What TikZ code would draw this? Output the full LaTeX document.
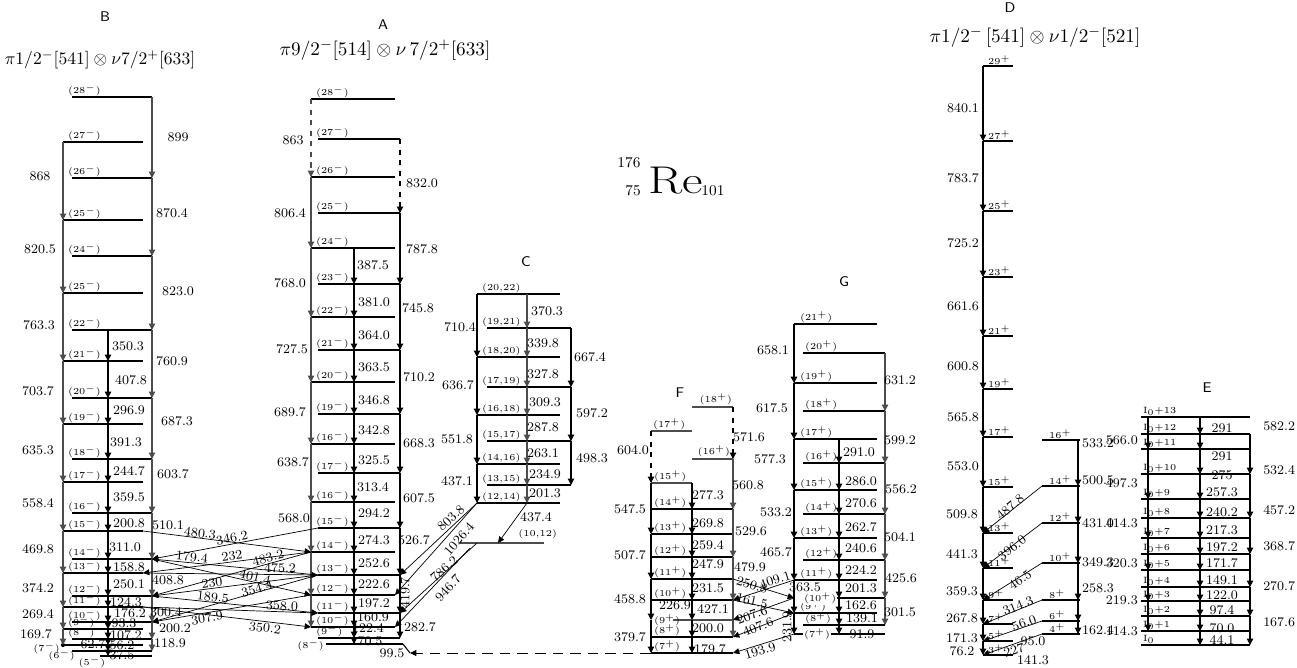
\documentclass[tikz,border=0pt]{standalone}
\usetikzlibrary{arrows.meta}
\begin{document}
\begin{tikzpicture}[x=0.02cm,y=-0.02cm,
  lev/.style={line width=0.6pt},
  tr/.style={-{Triangle[length=3.6pt,width=3.6pt]},line width=0.6pt},
  xtr/.style={-{Triangle[length=3.6pt,width=3.4pt]},line width=0.4pt},
  en/.style={font=\fontsize{7.5}{8}\selectfont,inner sep=0.5pt},
  spn/.style={font=\fontsize{5.2}{6}\selectfont,inner sep=0.4pt,anchor=south west},
  ttl/.style={font=\fontsize{10}{12}\selectfont},
  bnd/.style={font=\sffamily\fontsize{8}{9}\selectfont}
]
\useasboundingbox (0,0) rectangle (1297,667);

% ---------------- band B
\node[bnd] (Bname) at (105,17) {B};
\node[ttl] (Btitle) at (100,60) {$\pi 1/2^-[541]\otimes\nu 7/2^+[633]$};
\coordinate (Bc1) at (63,0); \coordinate (Bc2) at (108,0); \coordinate (Bc3) at (152,0);
\coordinate (Be) at (72,0); \coordinate (Bo) at (143,0);
\foreach \s/\y/\lab in {28/97/28,26/178/26,24/256/24,22/330/22,20/398/20,18/459/18,16/513/16,14/559/14,12/596/12,10/622/10,8/639/8}
  {\coordinate (B\s) at (0,\y);
   \draw[lev] (B\s -| Be) -- (B\s -| Bc3);
   \node[spn] (Bs\s) at (67,\y) {(\lab$^-$)};}
\foreach \s/\y/\lab in {27/142/27,25/220/25,23/293/25,21/361/21,19/424/19,17/482/17,15/531/15,13/573/13,11/607/11,9/629/9}
  {\coordinate (B\s) at (0,\y);
   \draw[lev] (B\s -| Bc1) -- (B\s -| Bo);
   \node[spn] (Bs\s) at (67,\y) {(\lab$^-$)};}
\coordinate (B7) at (0,645); \coordinate (B6) at (0,651); \coordinate (B5) at (0,656);
\draw[lev] (B7 -| Bc1) -- (B7 -| Bo);
\draw[lev] (B6 -| Be) -- (B6 -| Bc3);
\draw[lev] (100,656) -- (B5 -| Bc3);
\fill (B7 -| Bc1) circle (1.2pt);
\node[spn,anchor=east] (Bs7) at (61,648) {(7$^-$)};
\node[spn,anchor=east] (Bs6) at (76,655) {(6$^-$)};
\node[spn,anchor=center] (Bs5) at (92,662) {(5$^-$)};
\foreach \p/\q in {28/26,26/24,24/22,22/20,20/18,18/16,16/14,14/12,12/10,10/8,8/6}
  \draw[tr,black!70] (B\p -| Bc3) -- (B\q -| Bc3);
\foreach \p/\q in {27/25,25/23,23/21,21/19,19/17,17/15,15/13,13/11,11/9,9/7}
  \draw[tr,black!70] (B\p -| Bc1) -- (B\q -| Bc1);
\foreach \p [evaluate=\p as \q using int(\p-1)] in {22,21,...,6}
  \draw[tr,line width=0.9pt] (B\p -| Bc2) -- (B\q -| Bc2);
\foreach \x/\y/\v [count=\i] in {40/176/868,40/249/820.5,39/325/763.3,38/391/703.7,38/450/635.3,38/503/558.4,38/549/469.8,38/588/374.2,38/614/269.4,36/634/169.7,
  178/137/899,172/213/870.4,178/291/823.0,172/361/760.9,177/421/687.3,173/474/603.7,168/525/510.1,168/580/408.8,166/612/300.4,175/628/200.2,170/643/118.9,
  128/346/350.3,131/380/407.8,129/410/296.9,126/442/391.3,129/471/244.7,129/497/359.5,129/523/200.8,125/547/311.0,129/567/158.8,129/584/250.1,
  126/602/124.3,130/613/176.2,124/623/93.3,126/635/107.2,93/644/62.7,122/645/56.2,122/655/37.5}
  \node[en] (Bg\i) at (\x,\y) {\v};

% ---------------- band A
\node[bnd] (Aname) at (383,25) {A};
\node[ttl,font=\fontsize{11}{13}\selectfont] (Atitle) at (385,50) {$\pi 9/2^-[514]\otimes\nu\,7/2^+[633]$};
\coordinate (Ac1) at (311,0); \coordinate (Ac2) at (354,0); \coordinate (Ac3) at (400,0);
\coordinate (Ae) at (395,0); \coordinate (Ao) at (318,0);
\foreach \s/\y/\lab in {28/99/28,26/177/26,24/248/24,22/317/22,20/382/20,18/444/16,16/502/16,14/552/14,12/595/12,10/627/10}
  {\coordinate (A\s) at (0,\y);
   \draw[lev] (A\s -| Ac1) -- (A\s -| Ae);
   \node[spn] (As\s) at (315,\y) {(\lab$^-$)};}
\foreach \s/\y/\lab in {27/139/27,25/213/25,23/284/23,21/350/21,19/414/19,17/473/17,15/528/15,13/575/13,11/613/11,9/638/9}
  {\coordinate (A\s) at (0,\y);
   \draw[lev] (A\s -| Ao) -- (A\s -| Ac3);
   \node[spn] (As\s) at (315,\y) {(\lab$^-$)};}
\coordinate (A8) at (0,644); \coordinate (A8e) at (410,653);
\draw[lev] (326,644) -- (403,644);
\node[spn,anchor=east] (As8) at (325,645) {(8$^-$)};
\draw[tr,dashed,black!70] (A28 -| Ac1) -- (A26 -| Ac1);
\foreach \p/\q in {26/24,24/22,22/20,20/18,18/16,16/14,14/12,12/10}
  \draw[tr,black!70] (A\p -| Ac1) -- (A\q -| Ac1);
\draw[tr,dashed] (A27 -| Ac3) -- (A25 -| Ac3);
\foreach \p/\q in {25/23,23/21,21/19,19/17,17/15,15/13,13/11,11/9}
  \draw[tr] (A\p -| Ac3) -- (A\q -| Ac3);
\foreach \p [evaluate=\p as \q using int(\p-1)] in {24,23,...,9}
  \draw[tr] (A\p -| Ac2) -- (A\q -| Ac2);
\foreach \x/\y/\v [count=\i] in {293/140/863,290/213/806.4,290/283/768.0,292/349/727.5,290/412/689.7,293/462/638.7,294/518/568.0,
  422/183/832.0,422/249/787.8,418/308/745.8,419/377/710.2,419/443/668.3,419/498/607.5,414/540/526.7,420/627/282.7,
  373/265/387.5,374/302/381.0,374/335/364.0,374/367/363.5,374/400/346.8,374/430/342.8,374/460/325.5,373/487/313.4,
  374/513/294.2,374/540/274.3,374/563/252.6,374/584/222.6,374/603/197.2,373/617/160.9,368/628/122.4,370/641/70.5}
  \node[en] (Ag\i) at (\x,\y) {\v};
\node[en,rotate=90] (Ag419) at (405,593) {419.7};

% ---------------- crossing transitions B <-> A
\draw[xtr] (B15 -| Bo) -- (A14 -| Ac1);
\draw[xtr] (A15 -| Ao) -- (B14 -| Bc3);
\draw[xtr] (A13 -| Ao) -- (B14 -| Bc3);
\draw[xtr] (A14 -| Ac1) -- (B13 -| Bo);
\draw[xtr] (A14 -| Ac1) -- (B12 -| Bc3);
\draw[xtr] (B13 -| Bo) -- (A13 -| Ao);
\draw[xtr] (B14 -| Bc3) -- (A12 -| Ac1);
\draw[xtr] (A13 -| Ao) -- (B12 -| Bc3);
\draw[xtr] (B12 -| Bc3) -- (A11 -| Ao);
\draw[xtr] (A13 -| Ao) -- (B10 -| Bc3);
\draw[xtr] (B11 -| Bo) -- (A11 -| Ao);
\draw[xtr] (A12 -| Ac1) -- (B10 -| Bc3);
\draw[xtr] (B11 -| Bo) -- (A10 -| Ac1);
\foreach \x/\y/\r/\v [count=\i] in {200/533/-7/480.3,232/538/11/346.2,192/557/-5/179.4,232/556/7/232,268/558/15/483.2,
  280/568/0/475.2,255/577/-13/401.4,212/583/7/230,213/597/-6/189.5,257/589/16/354.4,282/606/-2/358.0,
  207/618/10/307.9,265/628/-7/350.2}
  \node[en,rotate=\r] (BAg\i) at (\x,\y) {\v};

% ---------------- band C
\node[bnd] (Cname) at (526,262) {C};
\coordinate (Cc1) at (477,0); \coordinate (Cc2) at (527,0); \coordinate (Cc3) at (571,0);
\coordinate (Ce) at (560,0); \coordinate (Co) at (487,0);
\foreach \s/\y/\lab in {20/294/22,18/357/20,16/415/18,14/464/16,12/503/14}
  {\coordinate (C\s) at (0,\y);
   \draw[lev] (C\s -| Cc1) -- (C\s -| Ce);
   \node[spn] (Cs\s) at (481,\y) {(\s,\lab)};}
\foreach \s/\y/\lab in {19/328/21,17/387/19,15/441/17,13/485/15}
  {\coordinate (C\s) at (0,\y);
   \draw[lev] (C\s -| Co) -- (C\s -| Cc3);
   \node[spn] (Cs\s) at (481,\y) {(\s,\lab)};}
\coordinate (C10) at (0,543); \coordinate (C10t) at (498,543); \coordinate (C10b) at (470,548);
\draw[lev,black!70] (460,543) -- (544,543);
\node[spn,anchor=south east] (Cs10) at (558,540) {(10,12)};
\foreach \p/\q in {20/18,18/16,16/14,14/12}
  \draw[tr] (C\p -| Cc1) -- (C\q -| Cc1);
\foreach \p/\q in {19/17,17/15,15/13}
  \draw[tr] (C\p -| Cc3) -- (C\q -| Cc3);
\foreach \p [evaluate=\p as \q using int(\p-1)] in {20,19,...,13}
  \draw[tr,black!70] (C\p -| Cc2) -- (C\q -| Cc2);
\draw[xtr] (C12 -| Cc2) -- (C10t);
\draw[xtr] (C12 -| Cc1) -- (A13 -| Ac3);
\draw[xtr] (C12 -| Cc1) -- (A12 -| Ae);
\draw[xtr] (C10 -| Cc1) -- (A11 -| Ac3);
\draw[xtr] (C10b) -- (A10 -| Ae);
\foreach \x/\y/\v [count=\i] in {460/327/710.4,458/385/636.7,457/439/551.8,457/481/437.1,
  590/357/667.4,592/413/597.2,592/458/498.3,
  547/311/370.3,543/343/339.8,543/374/327.8,545/402/309.3,543/427/287.8,543/453/263.1,545/474/234.9,545/493/201.3,536/517/437.4}
  \node[en] (Cg\i) at (\x,\y) {\v};
\foreach \x/\y/\r/\v [count=\i] in {451/518/43/803.8,459/539/49/1026.4,444/569/42/786.2,448/588/48/946.7}
  \node[en,rotate=\r] (CAg\i) at (\x,\y) {\v};

% ---------------- band F
\node[bnd] (Fname) at (680,393) {F};
\coordinate (Fc1) at (651,0); \coordinate (Fc2) at (692,0); \coordinate (Fc3) at (733,0);
\coordinate (F18) at (0,407); \coordinate (F17) at (0,431); \coordinate (F16) at (0,459);
\coordinate (F15) at (0,483); \coordinate (F9) at (0,620);
\draw[lev,black!70] (F18 -| Fc2) -- (F18 -| Fc3);
\draw[lev,black!70] (F17 -| Fc1) -- (F17 -| Fc2);
\draw[lev,black!70] (F16 -| Fc2) -- (F16 -| Fc3);
\draw[lev,black!70] (F15 -| Fc1) -- (F15 -| Fc2);
\draw[lev,black!70] (673,620) -- (F9 -| Fc3);
\node[spn,anchor=south east] (Fs18) at (733,406) {(18$^+$)};
\node[spn] (Fs17) at (652,431) {(17$^+$)};
\node[spn,anchor=south east] (Fs16) at (731,458) {(16$^+$)};
\node[spn] (Fs15) at (653,483) {(15$^+$)};
\node[spn,anchor=west] (Fs9) at (653,620) {(9$^+$)};
\foreach \s/\y in {14/509,13/534,12/557,11/579,10/600,8/637,7/653}
  {\coordinate (F\s) at (0,\y);
   \draw[lev] (F\s -| Fc1) -- (F\s -| Fc3);
   \node[spn] (Fs\s) at (653,\y) {(\s$^+$)};}
\draw[tr,dashed] (F17 -| Fc1) -- (F15 -| Fc1);
\foreach \p/\q in {15/13,13/11,11/9,9/7}
  \draw[tr] (F\p -| Fc1) -- (F\q -| Fc1);
\draw[tr,dashed] (F18 -| Fc3) -- (F16 -| Fc3);
\foreach \p/\q in {16/14,14/12,12/10,10/8}
  \draw[tr,black!70] (F\p -| Fc3) -- (F\q -| Fc3);
\foreach \p [evaluate=\p as \q using int(\p-1)] in {15,14,...,8}
  \draw[tr] (F\p -| Fc2) -- (F\q -| Fc2);
\draw[xtr,dashed,dash pattern=on 6pt off 4pt] (F7 -| Fc1) -- (A8e);
\draw[lev] (403,644) -- (A8e);
\node[en] (Fg99) at (392,653) {99.5};
\foreach \x/\y/\v [count=\i] in {633/450/604.0,630/509/547.5,630/555/507.7,630/599/458.8,630/637/379.7,
  749/437/571.6,748/485/560.8,751/531/529.6,750/567/479.9,
  708/495/277.3,708/523/269.8,708/545/259.4,708/564/247.9,708/588/231.5,675/605/226.9,713/609/427.1,708/628/200.0,710/649/179.7}
  \node[en] (Fg\i) at (\x,\y) {\v};

% ---------------- band G
\node[bnd] (Gname) at (844,282) {G};
\coordinate (Gc1) at (794,0); \coordinate (Gc2) at (839,0); \coordinate (Gc3) at (885,0);
\coordinate (Ge) at (803,0); \coordinate (Go) at (877,0);
\foreach \s/\y in {21/324,19/383,17/439,15/490,13/538,11/580,9/613}
  {\coordinate (G\s) at (0,\y);
   \draw[lev] (G\s -| Gc1) -- (G\s -| Go);
   \node[spn] (Gs\s) at (799,\y) {(\s$^+$)};}
\foreach \s/\y in {20/353,18/411,16/463,14/514,12/560,8/625}
  {\coordinate (G\s) at (0,\y);
   \draw[lev] (G\s -| Ge) -- (G\s -| Gc3);
   \node[spn] (Gs\s) at (804,\y) {(\s$^+$)};}
\coordinate (G10) at (0,598); \coordinate (G7) at (0,634);
\draw[lev] (G10 -| Ge) -- (G10 -| Gc3);
\draw[lev] (G7 -| Gc1) -- (G7 -| Gc3);
\node[spn,anchor=west,fill=white] (Gs10) at (803,598) {(10$^+$)};
\node[spn,anchor=west,fill=white] (Gs7) at (803,634) {(7$^+$)};
\foreach \p/\q in {21/19,19/17,17/15,15/13,13/11,11/9,9/7}
  \draw[tr,line width=1.2pt] (G\p -| Gc1) -- (G\q -| Gc1);
\foreach \p/\q in {20/18,18/16,16/14,14/12,12/10,10/8}
  \draw[tr,black!70] (G\p -| Gc3) -- (G\q -| Gc3);
\foreach \p [evaluate=\p as \q using int(\p-1)] in {17,16,...,8}
  \draw[tr] (G\p -| Gc2) -- (G\q -| Gc2);
\foreach \x/\y/\v [count=\i] in {773/350/658.1,772/408/617.5,770/459/577.3,776/512/533.2,776/552/465.7,805/587/363.5,
  900/380/631.2,900/440/599.2,901/489/556.2,900/537/504.1,901/578/425.6,900/612/301.5,
  859/452/291.0,861/481/286.0,861/503/270.6,861/527/262.7,861/548/240.6,861/570/224.2,861/588/201.3,861/605/162.6,862/618/139.1,862/634/91.9}
  \node[en] (Gg\i) at (\x,\y) {\v};
\node[en,rotate=90] (Gg231) at (787,627) {231.9};

% ---------------- crossing transitions F <-> G
\draw[xtr] (F11 -| Fc3) -- (G10 -| Gc1);
\draw[xtr] (F10 -| Fc3) -- (G9 -| Gc1);
\draw[xtr] (G11 -| Gc1) -- (F10 -| Fc3);
\draw[xtr] (G10 -| Gc1) -- (F9 -| Fc3);
\draw[xtr] (G9 -| Gc1) -- (F8 -| Fc3);
\draw[xtr] (G7 -| Gc1) -- (F7 -| Fc3);
\foreach \x/\y/\r/\v [count=\i] in {752/585/-17/250.8,752/601/-12/161.5,775/580/18/409.1,752/615/20/207.6,758/627/22/407.6,760/651/17/193.9}
  \node[en,rotate=\r] (FGg\i) at (\x,\y) {\v};

% ---------------- band D
\node[bnd] (Dname) at (1010,8) {D};
\node[ttl,font=\fontsize{11}{13}\selectfont] (Dtitle) at (1035,37) {$\pi 1/2^-\,[541]\otimes\nu 1/2^-[521]$};
\coordinate (Dc1) at (983,0); \coordinate (Dc2) at (1078,0);
\coordinate (Dl) at (1013,0); \coordinate (Dr) at (1042,0);
\foreach \s/\y in {29/66,27/141,25/211,23/277,21/336,19/389,17/437,15/487,13/533,11/568,9/600,7/624,5/641,3/655}
  {\coordinate (D\s) at (0,\y);
   \draw[lev] (D\s -| Dc1) -- (D\s -| Dl);
   \node[spn] (Ds\s) at (987,\y) {\s$^+$};}
\foreach \s/\y in {16/440,14/486,12/523,10/563,8/600,6/621,4/634}
  {\coordinate (D\s) at (0,\y);
   \draw[lev] (D\s -| Dr) -- (1080,\y);
   \node[spn] (Ds\s) at (1048,\y) {\s$^+$};}
\foreach \p/\q in {29/27,27/25,25/23,23/21,21/19,19/17,17/15,15/13,13/11,11/9,9/7,7/5,5/3}
  \draw[tr] (D\p -| Dc1) -- (D\q -| Dc1);
\foreach \p/\q in {16/14,14/12,12/10,10/8,8/6,6/4}
  \draw[tr] (D\p -| Dc2) -- (D\q -| Dc2);
\draw[xtr] (D14 -| Dr) -- (D13 -| Dc1);
\draw[xtr] (D12 -| Dr) -- (D11 -| Dc1);
\draw[xtr] (D10 -| Dr) -- (D9 -| Dc1);
\draw[xtr] (D8 -| Dr) -- (D7 -| Dc1);
\draw[xtr] (D6 -| Dr) -- (D5 -| Dc1);
\draw[xtr] (D4 -| Dr) -- (D3 -| Dc1);
\foreach \x/\y/\v [count=\i] in {963/108/840.1,963/178/783.7,963/243/725.2,963/306/661.6,963/366/600.8,963/417/565.8,963/466/553.0,
  962/514/509.8,962/554/441.3,962/591/359.3,962/618/267.8,962/638/171.3,962/651/76.2,
  1098/443/533.2,1098/480/500.5,1098/523/431.0,1098/562/349.3,1098/588/258.3,1098/630/162.4}
  \node[en] (Dg\i) at (\x,\y) {\v};
\foreach \x/\y/\r/\v [count=\i] in {1010/507/40/487.8,1012/548/38/396.0,1020/580/35/46.5,1018/606/22/314.3,1024/623/19/56.0,1014/650/18/227,1033/641/0/95.0,1033/660/0/141.3}
  \node[en,rotate=\r] (DXg\i) at (\x,\y) {\v};

% ---------------- band E
\node[bnd] (Ename) at (1207,388) {E};
\coordinate (Ec1) at (1148,0); \coordinate (Ec2) at (1200,0); \coordinate (Ec3) at (1250,0);
\foreach \s/\y in {13/417,12/434,11/449,10/474,9/499,8/518,7/538,6/554,5/570,4/587,3/601,2/616,1/631}
  {\coordinate (E\s) at (0,\y);
   \draw[lev] (1141,\y) -- (E\s -| Ec3);
   \node[spn] (Es\s) at (1142,\y) {I$_0$+\s};}
\coordinate (E0) at (0,645);
\draw[lev] (1141,645) -- (E0 -| Ec3);
\node[spn] (Es0) at (1142,645) {I$_0$};
\foreach \p/\q in {13/11,11/9,9/7,7/5,5/3,3/1}
  \draw[tr] (E\p -| Ec1) -- (E\q -| Ec1);
\foreach \p/\q in {12/10,10/8,8/6,6/4,4/2,2/0}
  \draw[tr] (E\p -| Ec3) -- (E\q -| Ec3);
\foreach \p [evaluate=\p as \q using int(\p-1)] in {13,12,...,1}
  \draw[tr] (E\p -| Ec2) -- (E\q -| Ec2);
\foreach \y/\v [count=\i] in {440/566.0,483/497.3,523/414.3,563/320.3,600/219.3,631/114.3}
  \node[en,anchor=east] (Egl\i) at (1139,\y) {\v};
\foreach \y/\v [count=\i] in {428/291,456/291,475/275,492/257.3,512/240.2,530/217.3,547/197.2,563/171.7,
  580/149.1,595/122.0,610/97.4,628/70.0,640/44.1}
  \node[en] (Egm\i) at (1222,\y) {\v};
\foreach \y/\v [count=\i] in {426/582.2,470/532.4,510/457.2,546/368.7,586/270.7,622/167.6}
  \node[en,anchor=west] (Egr\i) at (1262,\y) {\v};

% ---------------- nucleus
\node[font=\fontsize{22}{24}\selectfont,xscale=1.3] (Re) at (676,181) {Re};
\node[en,font=\fontsize{8.5}{9}\selectfont] (ReA) at (629,163) {176};
\node[en,font=\fontsize{8.5}{9}\selectfont] (ReZ) at (633,191) {75};
\node[en,font=\fontsize{8.5}{9}\selectfont] (ReN) at (713,191) {101};
\end{tikzpicture}
\end{document}
